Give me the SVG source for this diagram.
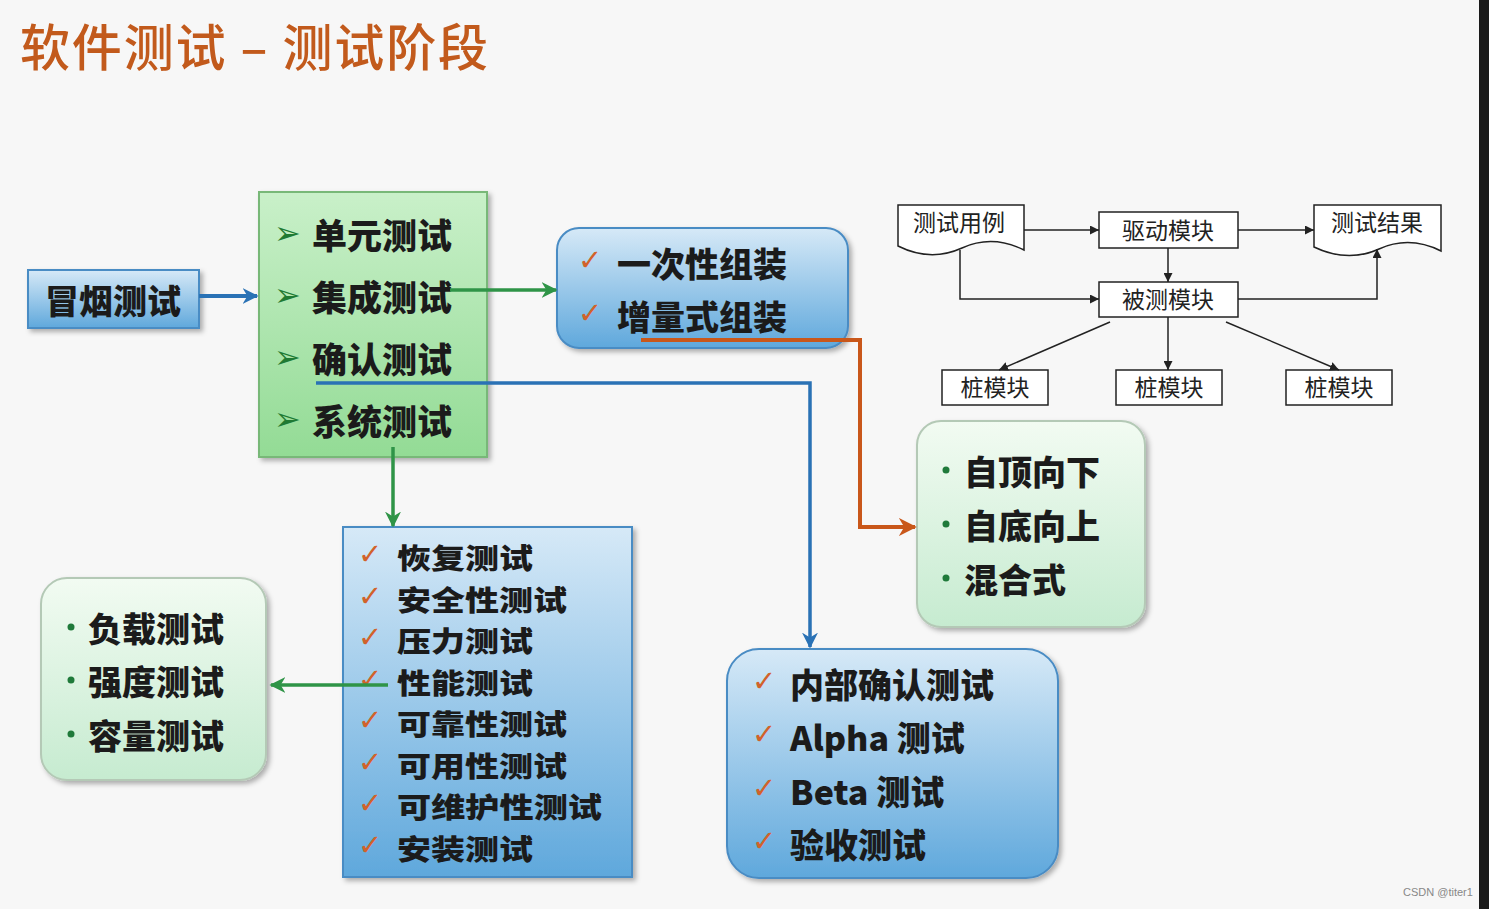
<svg xmlns="http://www.w3.org/2000/svg" width="1489" height="909" viewBox="0 0 1489 909">
<defs>
<style>
.t{font-family:"Noto Sans CJK SC","Noto Sans",sans-serif;font-weight:900;fill:#1b1b1b;dominant-baseline:central}
.s{font-family:"Noto Sans CJK SC","Noto Sans",sans-serif;font-weight:400;fill:#222;font-size:23px;dominant-baseline:central;text-anchor:middle}
.ck{font-family:"DejaVu Sans",sans-serif;fill:#d2622a;font-size:29px;dominant-baseline:central}
.ar{font-family:"DejaVu Sans",sans-serif;fill:#1f7a33;font-size:32px;dominant-baseline:central}
.bu{fill:#1f7a3a}
.box{stroke:#222;stroke-width:1.5;fill:#fff}
.ln{fill:none;stroke:#222;stroke-width:1.5}
.blue{fill:url(#gBlue);stroke:#4a8cc4;stroke-width:2}
.green{fill:url(#gGreen);stroke:#78b878;stroke-width:2}
.lg{fill:url(#gLight);stroke:#b4c9b6;stroke-width:2}
</style>
<linearGradient id="gBlue" x1="0" y1="0" x2="0" y2="1">
<stop offset="0" stop-color="#d6e9f7"/><stop offset="1" stop-color="#5fa8dc"/>
</linearGradient>
<linearGradient id="gGreen" x1="0" y1="0" x2="0" y2="1">
<stop offset="0" stop-color="#c9f0c9"/><stop offset="1" stop-color="#93db95"/>
</linearGradient>
<linearGradient id="gLight" x1="0" y1="0" x2="0" y2="1">
<stop offset="0" stop-color="#f2fbf2"/><stop offset="1" stop-color="#c6ebd0"/>
</linearGradient>
<filter id="sh" x="-10%" y="-10%" width="125%" height="125%">
<feDropShadow dx="3" dy="3" stdDeviation="2.5" flood-color="#000" flood-opacity="0.3"/>
</filter>
<marker id="mBlue" viewBox="0 0 10 10" refX="9" refY="5" markerWidth="16" markerHeight="16" markerUnits="userSpaceOnUse" orient="auto"><path d="M0,0 L10,5 L0,10 L3,5 Z" fill="#2a72b5"/></marker>
<marker id="mGreen" viewBox="0 0 10 10" refX="9" refY="5" markerWidth="16" markerHeight="16" markerUnits="userSpaceOnUse" orient="auto"><path d="M0,0 L10,5 L0,10 L3,5 Z" fill="#2f9447"/></marker>
<marker id="mOrange" viewBox="0 0 10 10" refX="9" refY="5" markerWidth="18" markerHeight="18" markerUnits="userSpaceOnUse" orient="auto"><path d="M0,0 L10,5 L0,10 L3,5 Z" fill="#c9571a"/></marker>
<marker id="mBlack" viewBox="0 0 10 10" refX="10" refY="5" markerWidth="9" markerHeight="9" markerUnits="userSpaceOnUse" orient="auto"><path d="M0,0 L10,5 L0,10 Z" fill="#222"/></marker>
</defs>
<rect width="1489" height="909" fill="#f7f7f7"/>
<rect x="1479" y="0" width="10" height="909" fill="#1a1a1a"/>
<text x="20" y="44" font-family="'Noto Sans CJK SC',sans-serif" font-weight="500" font-size="50" fill="#c25a1c" dominant-baseline="central" textLength="468" lengthAdjust="spacing">软件测试 – 测试阶段</text>

<g id="smoke">
<rect x="28" y="270" width="171" height="58" class="blue" filter="url(#sh)"/>
<text x="113" y="299" class="t" font-size="34" text-anchor="middle">冒烟测试</text>
</g>

<g id="stages">
<rect x="259" y="192" width="228" height="265" class="green" filter="url(#sh)"/>
<text x="274" y="233" class="ar">➢</text><text x="312" y="233" class="t" font-size="35">单元测试</text>
<text x="274" y="295" class="ar">➢</text><text x="312" y="295" class="t" font-size="35">集成测试</text>
<text x="274" y="357" class="ar">➢</text><text x="312" y="357" class="t" font-size="35">确认测试</text>
<text x="274" y="419" class="ar">➢</text><text x="312" y="419" class="t" font-size="35">系统测试</text>
</g>

<g id="assembly">
<rect x="557" y="228" width="291" height="120" rx="22" class="blue" filter="url(#sh)"/>
<text x="578" y="260" class="ck">✓</text><text x="617" y="262" class="t" font-size="34">一次性组装</text>
<text x="578" y="313" class="ck">✓</text><text x="617" y="315" class="t" font-size="34">增量式组装</text>
</g>

<g id="strategy">
<rect x="917" y="421" width="228" height="206" rx="24" class="lg" filter="url(#sh)"/>
<circle cx="946" cy="470" r="3.5" class="bu"/><text x="964" y="470" class="t" font-size="34">自顶向下</text>
<circle cx="946" cy="524" r="3.5" class="bu"/><text x="964" y="524" class="t" font-size="34">自底向上</text>
<circle cx="946" cy="578" r="3.5" class="bu"/><text x="964" y="578" class="t" font-size="34">混合式</text>
</g>

<g id="acceptance">
<rect x="727" y="649" width="331" height="229" rx="32" class="blue" filter="url(#sh)"/>
<text x="752" y="681" class="ck">✓</text><text x="790" y="683" class="t" font-size="34">内部确认测试</text>
<text x="752" y="734" class="ck">✓</text><text x="790" y="736" class="t" font-size="34">Alpha 测试</text>
<text x="752" y="788" class="ck">✓</text><text x="790" y="790" class="t" font-size="34">Beta 测试</text>
<text x="752" y="841" class="ck">✓</text><text x="790" y="843" class="t" font-size="34">验收测试</text>
</g>

<g id="system">
<rect x="343" y="527" width="289" height="350" class="blue" filter="url(#sh)"/>
<text x="358" y="554" class="ck">✓</text><text x="397" y="556" class="t" font-size="28.5" textLength="136" lengthAdjust="spacingAndGlyphs">恢复测试</text>
<text x="358" y="596" class="ck">✓</text><text x="397" y="598" class="t" font-size="28.5" textLength="170" lengthAdjust="spacingAndGlyphs">安全性测试</text>
<text x="358" y="637" class="ck">✓</text><text x="397" y="639" class="t" font-size="28.5" textLength="136" lengthAdjust="spacingAndGlyphs">压力测试</text>
<text x="358" y="679" class="ck">✓</text><text x="397" y="681" class="t" font-size="28.5" textLength="136" lengthAdjust="spacingAndGlyphs">性能测试</text>
<text x="358" y="720" class="ck">✓</text><text x="397" y="722" class="t" font-size="28.5" textLength="170" lengthAdjust="spacingAndGlyphs">可靠性测试</text>
<text x="358" y="762" class="ck">✓</text><text x="397" y="764" class="t" font-size="28.5" textLength="170" lengthAdjust="spacingAndGlyphs">可用性测试</text>
<text x="358" y="803" class="ck">✓</text><text x="397" y="805" class="t" font-size="28.5" textLength="205" lengthAdjust="spacingAndGlyphs">可维护性测试</text>
<text x="358" y="845" class="ck">✓</text><text x="397" y="847" class="t" font-size="28.5" textLength="136" lengthAdjust="spacingAndGlyphs">安装测试</text>
</g>

<g id="performance">
<rect x="41" y="578" width="225" height="202" rx="26" class="lg" filter="url(#sh)"/>
<circle cx="71" cy="627" r="3.5" class="bu"/><text x="88" y="627" class="t" font-size="34">负载测试</text>
<circle cx="71" cy="680" r="3.5" class="bu"/><text x="88" y="680" class="t" font-size="34">强度测试</text>
<circle cx="71" cy="734" r="3.5" class="bu"/><text x="88" y="734" class="t" font-size="34">容量测试</text>
</g>

<g id="unit-env">
<g id="testcase">
<path d="M898,205 H1024 V250 C1004,240 984,238 962,248 C940,258 918,256 898,246 Z" class="box"/>
<text x="959" y="221" class="s">测试用例</text>
</g>
<g id="driver">
<rect x="1099" y="212" width="139" height="36" class="box"/>
<text x="1168" y="229" class="s">驱动模块</text>
</g>
<g id="result">
<path d="M1314,205 H1441 V251 C1421,241 1401,239 1379,249 C1357,259 1335,257 1314,247 Z" class="box"/>
<text x="1377" y="221" class="s">测试结果</text>
</g>
<g id="undertest">
<rect x="1099" y="282" width="139" height="35" class="box"/>
<text x="1168" y="298" class="s">被测模块</text>
</g>
<g id="stub1">
<rect x="942" y="370" width="106" height="35" class="box"/>
<text x="995" y="386" class="s">桩模块</text>
</g>
<g id="stub2">
<rect x="1116" y="370" width="106" height="35" class="box"/>
<text x="1169" y="386" class="s">桩模块</text>
</g>
<g id="stub3">
<rect x="1286" y="370" width="106" height="35" class="box"/>
<text x="1339" y="386" class="s">桩模块</text>
</g>
</g>

<g id="connectors">
<line x1="199" y1="296" x2="257" y2="296" stroke="#2a72b5" stroke-width="4" marker-end="url(#mBlue)"/>
<line x1="450" y1="290" x2="556" y2="290" stroke="#2f9447" stroke-width="3.5" marker-end="url(#mGreen)"/>
<polyline points="641,340 860,340 860,527 915,527" fill="none" stroke="#c9571a" stroke-width="4" marker-end="url(#mOrange)"/>
<polyline points="316,383 810,383 810,647" fill="none" stroke="#2a72b5" stroke-width="3.5" marker-end="url(#mBlue)"/>
<line x1="393" y1="447" x2="393" y2="526" stroke="#2f9447" stroke-width="3.5" marker-end="url(#mGreen)"/>
<line x1="388" y1="685" x2="271" y2="685" stroke="#2f9447" stroke-width="3.5" marker-end="url(#mGreen)"/>
<line x1="1024" y1="230" x2="1099" y2="230" class="ln" marker-end="url(#mBlack)"/>
<line x1="1238" y1="230" x2="1314" y2="230" class="ln" marker-end="url(#mBlack)"/>
<line x1="1168" y1="248" x2="1168" y2="282" class="ln" marker-end="url(#mBlack)"/>
<polyline points="960,250 960,299 1099,299" class="ln" marker-end="url(#mBlack)"/>
<polyline points="1238,299 1377,299 1377,249" class="ln" marker-end="url(#mBlack)"/>
<line x1="1110" y1="322" x2="999" y2="370" class="ln" marker-end="url(#mBlack)"/>
<line x1="1168" y1="317" x2="1168" y2="370" class="ln" marker-end="url(#mBlack)"/>
<line x1="1226" y1="322" x2="1339" y2="370" class="ln" marker-end="url(#mBlack)"/>
</g>
<text x="1403" y="896" font-family="'Liberation Sans',sans-serif" font-size="11" fill="#888">CSDN @titer1</text>
</svg>
